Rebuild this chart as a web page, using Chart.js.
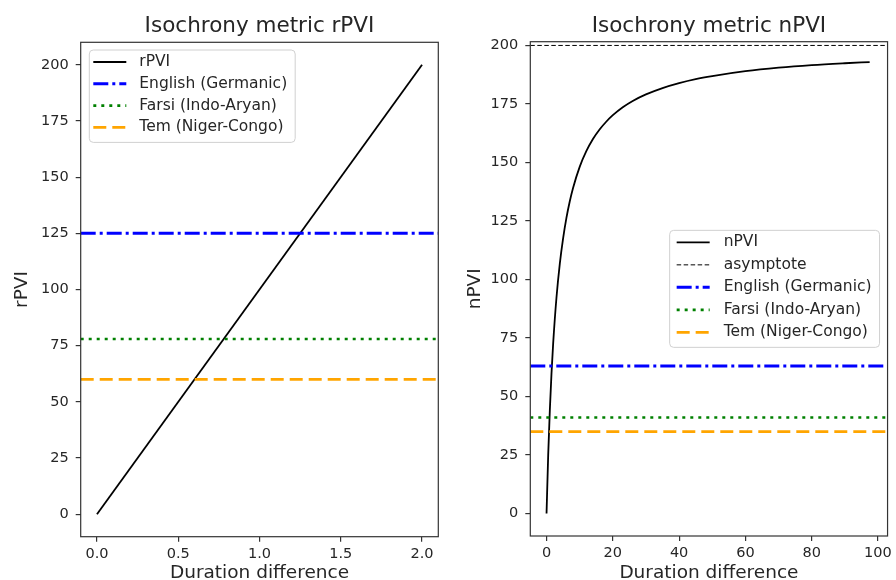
<!DOCTYPE html>
<html lang="en">
  <head>
    <meta charset="UTF-8" />
    <title>Isochrony metrics</title>
    <style>
      body {
        margin: 0;
        background: #fff;
      }
      .panel {
        position: absolute;
        top: 0;
        width: 448px;
        height: 580px;
      }
      #left { left: 0; }
      #right { left: 448px; }
    </style>
  </head>
  <body>
    <div class="panel" id="left"><canvas id="rpviChart" width="448" height="580"></canvas></div>
    <div class="panel" id="right"><canvas id="npviChart" width="448" height="580"></canvas></div>

    <script src="https://cdn.jsdelivr.net/npm/chart.js"></script>
    <script>
      // rPVI grows linearly with the duration difference
      const rpviDuration = [0, 2];
      const rpviValues = [0, 200];

      // nPVI curve
      const npviDuration = [0, 0.5, 1, 1.5, 2, 3, 4, 5, 6, 7, 8, 10, 12, 14, 16, 18, 20, 23, 26, 30, 35, 40, 45, 50, 60, 70, 80, 90, 97.5];
      const npviValues = [0, 25, 44.4, 60, 72.7, 92.3, 106.7, 117.6, 126.3, 133.3, 139.1, 148.1, 154.8, 160, 164.1, 167.4, 170.2, 173.6, 176.3, 179.1, 181.8, 183.9, 185.6, 186.9, 189, 190.5, 191.6, 192.4, 192.9];
      const asymptote = 200;

      // reference languages
      const languages = ["English (Germanic)", "Farsi (Indo-Aryan)", "Tem (Niger-Congo)"];
      const langRpvi = [125, 78, 60];
      const langNpvi = [63, 41, 35];

      const rpviXTicks = [0, 0.5, 1, 1.5, 2];
      const npviXTicks = [0, 20, 40, 60, 80, 100];
      const yTicks = [0, 25, 50, 75, 100, 125, 150, 175, 200];

      const langColors = ["#0000ff", "#008000", "#ffa500"];
      const langDashes = [[15, 4, 3, 4], [3, 5], [13, 6]];
      const langWidths = [3, 2.6, 2.6];

      const FONT = "'DejaVu Sans', sans-serif";
      const TEXT = "#262626";
      Chart.defaults.font.family = FONT;
      Chart.defaults.color = TEXT;

      // matplotlib-like box, title and legend
      const frame = {
        id: "frame",
        afterDraw(chart, args, opts) {
          const { ctx, chartArea: a } = chart;
          ctx.save();
          ctx.strokeStyle = "#333";
          ctx.lineWidth = 1.2;
          ctx.strokeRect(a.left, a.top, a.right - a.left, a.bottom - a.top);

          ctx.fillStyle = TEXT;
          ctx.font = "21.5px " + FONT;
          ctx.textAlign = "center";
          ctx.textBaseline = "middle";
          ctx.fillText(opts.title, (a.left + a.right) / 2, 26);

          // legend
          const items = chart.data.datasets;
          ctx.font = "15.5px " + FONT;
          const textW = Math.max(...items.map((d) => ctx.measureText(d.label).width));
          const w = opts.textX + textW + 8;
          const h = 12 + (items.length - 1) * opts.rowH + 15;
          let x0, y0;
          if (opts.loc === "upper left") {
            x0 = a.left + 8.6;
            y0 = a.top + 7.7;
          } else {
            x0 = a.right - 8 - w;
            y0 = (a.top + a.bottom) / 2 - h / 2;
          }
          ctx.beginPath();
          ctx.roundRect(x0, y0, w, h, 4);
          ctx.fillStyle = "rgba(255,255,255,0.85)";
          ctx.fill();
          ctx.strokeStyle = "#d0d0d0";
          ctx.lineWidth = 1;
          ctx.stroke();

          items.forEach((d, i) => {
            const cy = y0 + 12 + i * opts.rowH;
            ctx.beginPath();
            ctx.setLineDash(d.borderDash || []);
            ctx.strokeStyle = d.borderColor;
            ctx.lineWidth = d.borderWidth;
            ctx.moveTo(x0 + opts.h0, cy);
            ctx.lineTo(x0 + opts.h1, cy);
            ctx.stroke();
            ctx.setLineDash([]);
            ctx.fillStyle = TEXT;
            ctx.textAlign = "left";
            ctx.fillText(d.label, x0 + opts.textX, cy);
          });
          ctx.restore();
        },
      };

      function axes(xRange, xTicks, xFmt, yRange, yWidth, xHeight, yTitlePad, yLabel) {
        const tickGrid = {
          drawOnChartArea: false,
          drawTicks: true,
          tickLength: 5,
          color: "#333",
          lineWidth: 1.2,
        };
        return {
          x: {
            type: "linear",
            min: xRange[0],
            max: xRange[1],
            grid: tickGrid,
            border: { display: false },
            afterBuildTicks: (s) => { s.ticks = xTicks.map((v) => ({ value: v })); },
            afterFit: (s) => { s.height = xHeight; },
            ticks: { autoSkip: false, maxRotation: 0, padding: 4, font: { size: 14.5 }, callback: xFmt },
            title: {
              display: true,
              text: "Duration difference",
              font: { size: 18.5, lineHeight: 1 },
              padding: { top: 0, bottom: -2 },
            },
          },
          y: {
            type: "linear",
            min: yRange[0],
            max: yRange[1],
            grid: tickGrid,
            border: { display: false },
            afterBuildTicks: (s) => { s.ticks = yTicks.map((v) => ({ value: v })); },
            afterFit: (s) => { s.width = yWidth; },
            ticks: { autoSkip: false, padding: 7, font: { size: 14.5 } },
            title: {
              display: true,
              text: yLabel,
              font: { size: 18.5, lineHeight: 1 },
              padding: { top: yTitlePad, bottom: 0 },
            },
          },
        };
      }

      function hline(label, xRange, y, color, dash, width) {
        return {
          label,
          data: [{ x: xRange[0], y }, { x: xRange[1], y }],
          borderColor: color,
          borderDash: dash,
          borderWidth: width,
        };
      }

      function withOrder(datasets) {
        // later series drawn on top, like matplotlib
        return datasets.map((d, i) => ({ ...d, order: datasets.length - i, pointRadius: 0, fill: false }));
      }

      // left panel
      const rpviX = [-0.1, 2.1];
      const rpviY = [-10, 210];
      new Chart(document.getElementById("rpviChart"), {
        type: "line",
        data: {
          datasets: withOrder([
            {
              label: "rPVI",
              data: rpviDuration.map((x, i) => ({ x, y: rpviValues[i] })),
              borderColor: "#000",
              borderWidth: 1.8,
            },
            ...languages.map((name, i) =>
              hline(name, rpviX, langRpvi[i], langColors[i], langDashes[i], langWidths[i])
            ),
          ]),
        },
        options: {
          responsive: false,
          animation: false,
          layout: { padding: { top: 42.3, right: 9.7, left: 0, bottom: 0 } },
          scales: axes(rpviX, rpviXTicks, (v) => v.toFixed(1), rpviY, 80.7, 43.3, 13, "rPVI"),
          plugins: {
            legend: { display: false },
            tooltip: { enabled: false },
            frame: { title: "Isochrony metric rPVI", loc: "upper left", rowH: 21.8, h0: 4, h1: 37, textX: 50 },
          },
        },
        plugins: [frame],
      });

      // right panel
      const npviX = [-4.9, 102.9];
      const npviY = [-9.6, 201.6];
      new Chart(document.getElementById("npviChart"), {
        type: "line",
        data: {
          datasets: withOrder([
            {
              label: "nPVI",
              data: npviDuration.map((x, i) => ({ x, y: npviValues[i] })),
              borderColor: "#000",
              borderWidth: 1.8,
              cubicInterpolationMode: "monotone",
            },
            hline("asymptote", npviX, asymptote, "#000", [4.5, 2.5], 1),
            ...languages.map((name, i) =>
              hline(name, npviX, langNpvi[i], langColors[i], langDashes[i], langWidths[i])
            ),
          ]),
        },
        options: {
          responsive: false,
          animation: false,
          layout: { padding: { top: 41.7, right: 8, left: 0, bottom: 0 } },
          scales: axes(npviX, npviXTicks, (v) => String(v), npviY, 82.3, 44, 18, "nPVI"),
          plugins: {
            legend: { display: false },
            tooltip: { enabled: false },
            frame: { title: "Isochrony metric nPVI", loc: "center right", rowH: 22.5, h0: 7, h1: 40, textX: 54 },
          },
        },
        plugins: [frame],
      });
    </script>
  </body>
</html>
